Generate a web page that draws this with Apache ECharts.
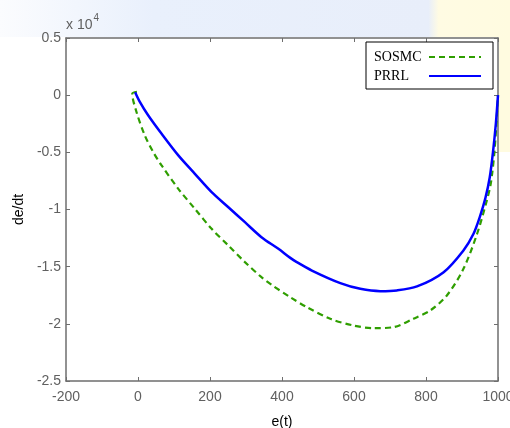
<!DOCTYPE html>
<html>
<head>
<meta charset="utf-8">
<script src="https://cdn.jsdelivr.net/npm/echarts@6/dist/echarts.min.js"></script>
<style>html,body{margin:0;padding:0;background:#fff}#c{width:510px;height:428px}</style>
</head>
<body>
<div id="c"></div>
<script>
// e(t) values and de/dt values
const prrlE = [-8, 5.5, 28.6, 65.6, 112, 158, 204.5, 251, 297, 343, 390, 423, 441, 483, 562, 617.5, 673, 719, 775, 849, 904, 932, 950, 965, 977, 986, 994, 1000];
const prrlD = [260, -610, -1780, -3380, -5270, -6880, -8480, -9800, -11110, -12420, -13440, -14230, -14600, -15340, -16440, -16940, -17140, -17080, -16730, -15480, -13580, -12120, -10600, -9000, -7200, -5000, -2500, 0];
const sosmcE = [-3, -16, -4, 19, 42.5, 65.6, 112, 158, 204.5, 251, 297, 343, 371, 423, 469, 534, 599, 654, 710, 765, 812, 858, 904, 942, 969, 979, 984, 990, 995, 1000];
const sosmcD = [300, 120, -1490, -3530, -4990, -6150, -8190, -9940, -11690, -13150, -14600, -15920, -16590, -17670, -18540, -19560, -20150, -20380, -20290, -19560, -18830, -17520, -15190, -12120, -9210, -7900, -6800, -5000, -2800, 0];
const xTicks = {min: -200, max: 1000, step: 200};
const yTicks = {min: -25000, max: 5000, step: 5000, scale: 10000};
const legendNames = ['SOSMC', 'PRRL'];

const pair = (xs, ys) => xs.map((x, i) => [x, ys[i]]);
const axisGray = '#6e6e6e';
const labelGray = '#606060';
const chart = echarts.init(document.getElementById('c'), null, {renderer: 'canvas'});
const commonX = {type: 'value', min: xTicks.min, max: xTicks.max, interval: xTicks.step,
  splitLine: {show: false},
  axisLine: {show: true, onZero: false, lineStyle: {color: axisGray, width: 1.5}},
  axisTick: {show: true, inside: true, length: 4, lineStyle: {color: axisGray}}};
const commonY = {type: 'value', min: yTicks.min, max: yTicks.max, interval: yTicks.step,
  splitLine: {show: false},
  axisLine: {show: true, onZero: false, lineStyle: {color: axisGray, width: 1.5}},
  axisTick: {show: true, inside: true, length: 4, lineStyle: {color: axisGray}}};
chart.setOption({
  animation: false,
  backgroundColor: '#ffffff',
  textStyle: {fontFamily: 'Liberation Sans'},
  grid: {left: 66, right: 12, top: 38, bottom: 47, show: true, backgroundColor: '#ffffff', borderWidth: 0,
    containLabel: false, outerBoundsMode: 'none'},
  graphic: [
    {type: 'rect', z: -5, shape: {x: 0, y: 0, width: 510, height: 37},
     style: {fill: new echarts.graphic.LinearGradient(0, 0, 1, 0, [
       {offset: 0, color: '#fbfcfe'}, {offset: 0.3, color: '#e9f0fc'}, {offset: 0.84, color: '#e8eefa'},
       {offset: 0.86, color: '#fffbe3'}, {offset: 1, color: '#fffbe0'}])}},
    {type: 'rect', z: -5, shape: {x: 499, y: 37, width: 11, height: 115},
     style: {fill: '#fffbe0'}},
    {type: 'text', left: 66, top: 13,
     style: {text: '{a|x 10}{b|4}', rich: {
       a: {fontSize: 14, fill: labelGray, fontFamily: 'Liberation Sans', verticalAlign: 'bottom', lineHeight: 17},
       b: {fontSize: 10, fill: labelGray, fontFamily: 'Liberation Sans', verticalAlign: 'top', padding: [0, 0, 9, 1]}}}}
  ],
  legend: {
    orient: 'vertical', left: 366, top: 42, align: 'right',
    data: legendNames,
    itemWidth: 52, itemHeight: 14, itemGap: 5,
    padding: [8, 11, 6, 8],
    borderColor: '#000', borderWidth: 1, backgroundColor: '#fff',
    itemStyle: {opacity: 0},
    formatter: name => '{t|' + name + '}',
    textStyle: {fontFamily: 'Liberation Serif', fontSize: 14, color: '#000',
      rich: {t: {width: 50, align: 'left', fontFamily: 'Liberation Serif', fontSize: 14, color: '#000'}}}
  },
  xAxis: [
    Object.assign({}, commonX, {position: 'bottom', name: 'e(t)', nameLocation: 'middle', nameGap: 34,
      nameTextStyle: {color: '#000', fontSize: 14, fontFamily: 'Liberation Sans'},
      axisLabel: {color: labelGray, fontSize: 14, margin: 9, fontFamily: 'Liberation Sans', showMaxLabel: true,
        formatter: v => String(v)}}),
    Object.assign({}, commonX, {position: 'top', axisLabel: {show: false}})
  ],
  yAxis: [
    Object.assign({}, commonY, {position: 'left', name: 'de/dt', nameLocation: 'middle', nameGap: 39,
      nameTextStyle: {color: '#000', fontSize: 14, fontFamily: 'Liberation Sans'},
      axisLabel: {color: labelGray, fontSize: 14, margin: 5, fontFamily: 'Liberation Sans',
        formatter: v => String(v / yTicks.scale)}}),
    Object.assign({}, commonY, {position: 'right', axisLabel: {show: false}})
  ],
  series: [
    {name: legendNames[0], type: 'line', data: pair(sosmcE, sosmcD), showSymbol: false, symbol: 'none', smooth: 0.3,
     lineStyle: {color: '#2f9e00', width: 2.2, type: [6, 4]}, itemStyle: {color: '#2f9e00'}, z: 2},
    {name: legendNames[1], type: 'line', data: pair(prrlE, prrlD), showSymbol: false, symbol: 'none', smooth: 0.3,
     lineStyle: {color: '#0000ff', width: 2.5}, itemStyle: {color: '#0000ff'}, z: 3}
  ]
});
</script>
</body>
</html>
